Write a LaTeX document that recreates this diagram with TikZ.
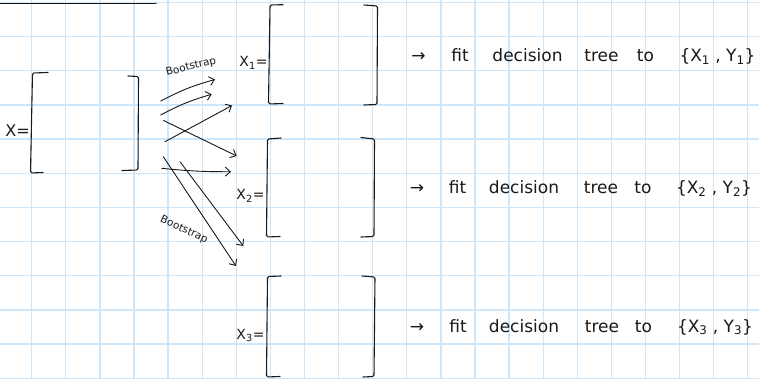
\documentclass[tikz,border=0pt]{standalone}
\usepackage{fontspec}
\setmainfont{DejaVu Sans}
\usetikzlibrary{arrows.meta}
\definecolor{gridblue}{RGB}{205,230,250}
\definecolor{ink}{RGB}{25,25,25}
\begin{document}
\begin{tikzpicture}[x=1pt,y=-1pt,line cap=round,line join=round,
  gridline/.style={gridblue,line width=1.3pt},
  brk/.style={ink,line width=1.1pt,rounded corners=1.5pt},
  arr/.style={ink,line width=0.9pt,-{Straight Barb[length=5pt,width=9pt]}},
  word/.style={ink,anchor=base,inner sep=0pt,font=\fontsize{17}{20}\selectfont},
  lab/.style={ink,anchor=base,inner sep=0pt,font=\fontsize{14}{16}\selectfont},
  biglab/.style={ink,anchor=base,inner sep=0pt,font=\fontsize{16}{18}\selectfont},
  boot/.style={ink,inner sep=0pt,font=\fontsize{10.5}{12}\selectfont}]
\useasboundingbox (0,0) rectangle (759,379);
\fill[white] (0,0) rectangle (759,379);
% grid
\foreach \i in {0,...,21} \draw[gridline] ({31.7+34.1*\i},0) -- ({31.7+34.1*\i},379);
\foreach \j in {0,...,11} \draw[gridline] (0,{2.5+34.16*\j}) -- (759,{2.5+34.16*\j});
% top rule
\draw[ink,line width=1.2pt] (0,3.3) -- (156,3.3);
% brackets
\draw[brk] (48,72.5) -- (32.5,73) -- (30.5,173) -- (43,172.5);
\draw[brk] (128,76) -- (138.5,76.5) -- (138,170) -- (122,170.5);
\draw[brk] (283,4.7) -- (270,5) -- (268.5,104) -- (283,103.5);
\draw[brk] (364,5) -- (377.5,6) -- (377,104.5) -- (364,105);
\draw[brk] (281,138) -- (267.5,139) -- (266.5,237) -- (280,236.5);
\draw[brk] (361,137.5) -- (374.5,139) -- (374,236.5) -- (361,237);
\draw[brk] (281,276) -- (267.5,276.5) -- (266.5,377) -- (280,376.5);
\draw[brk] (362,276) -- (375,277) -- (374,376.5) -- (363,377);
% labels
\node[biglab] (xl) at (17.5,137) {X=};
\node[lab] (x1l) at (253.5,67) {X\textsubscript{1}=};
\node[lab] (x2l) at (250.5,200) {X\textsubscript{2}=};
\node[lab] (x3l) at (250.5,339) {X\textsubscript{3}=};
\node[boot,rotate=14] (b1) at (191,67) {Bootstrap};
\node[boot,rotate=-25] (b2) at (184,230) {Bootstrap};
% arrows
\coordinate (s1) at (160.7,101); \coordinate (e1) at (215,79.5);
\coordinate (s2) at (160.7,115); \coordinate (e2) at (211.7,94.3);
\coordinate (s3) at (165,141.7); \coordinate (e3) at (232,105.5);
\coordinate (s4) at (163.5,120.5); \coordinate (e4) at (236.7,156);
\coordinate (s5) at (161.7,168.3); \coordinate (e5) at (231,171.7);
\coordinate (s6) at (163.3,156.7); \coordinate (e6) at (236,266);
\coordinate (s7) at (180,161.7); \coordinate (e7) at (243.3,246);
\draw[arr] (s1) to[bend left=6] (e1);
\draw[arr] (s2) to[bend left=6] (e2);
\draw[arr] (s3) -- (e3);
\draw[arr] (s4) -- (e4);
\draw[arr] (s5) to[bend right=3] (e5);
\draw[arr] (s6) -- (e6);
\draw[arr] (s7) -- (e7);
% text lines
\node[word] (a1) at (418.5,62) {→};
\node[word] (f1) at (460,62) {fit};
\node[word] (d1) at (527.5,62) {decision};
\node[word] (t1) at (601.5,62) {tree};
\node[word] (o1) at (645.5,62) {to};
\node[word] (p1) at (717.5,62) {\{X\textsubscript{1} , Y\textsubscript{1}\}};
\node[word] (a2) at (417,194) {→};
\node[word] (f2) at (457.5,194) {fit};
\node[word] (d2) at (524,194) {decision};
\node[word] (t2) at (601,194) {tree};
\node[word] (o2) at (643,194) {to};
\node[word] (p2) at (714,194) {\{X\textsubscript{2} , Y\textsubscript{2}\}};
\node[word] (a3) at (417,332) {→};
\node[word] (f3) at (458,332) {fit};
\node[word] (d3) at (524,332) {decision};
\node[word] (t3) at (602,332) {tree};
\node[word] (o3) at (643.5,332) {to};
\node[word] (p3) at (715,332) {\{X\textsubscript{3} , Y\textsubscript{3}\}};
\end{tikzpicture}
\end{document}
